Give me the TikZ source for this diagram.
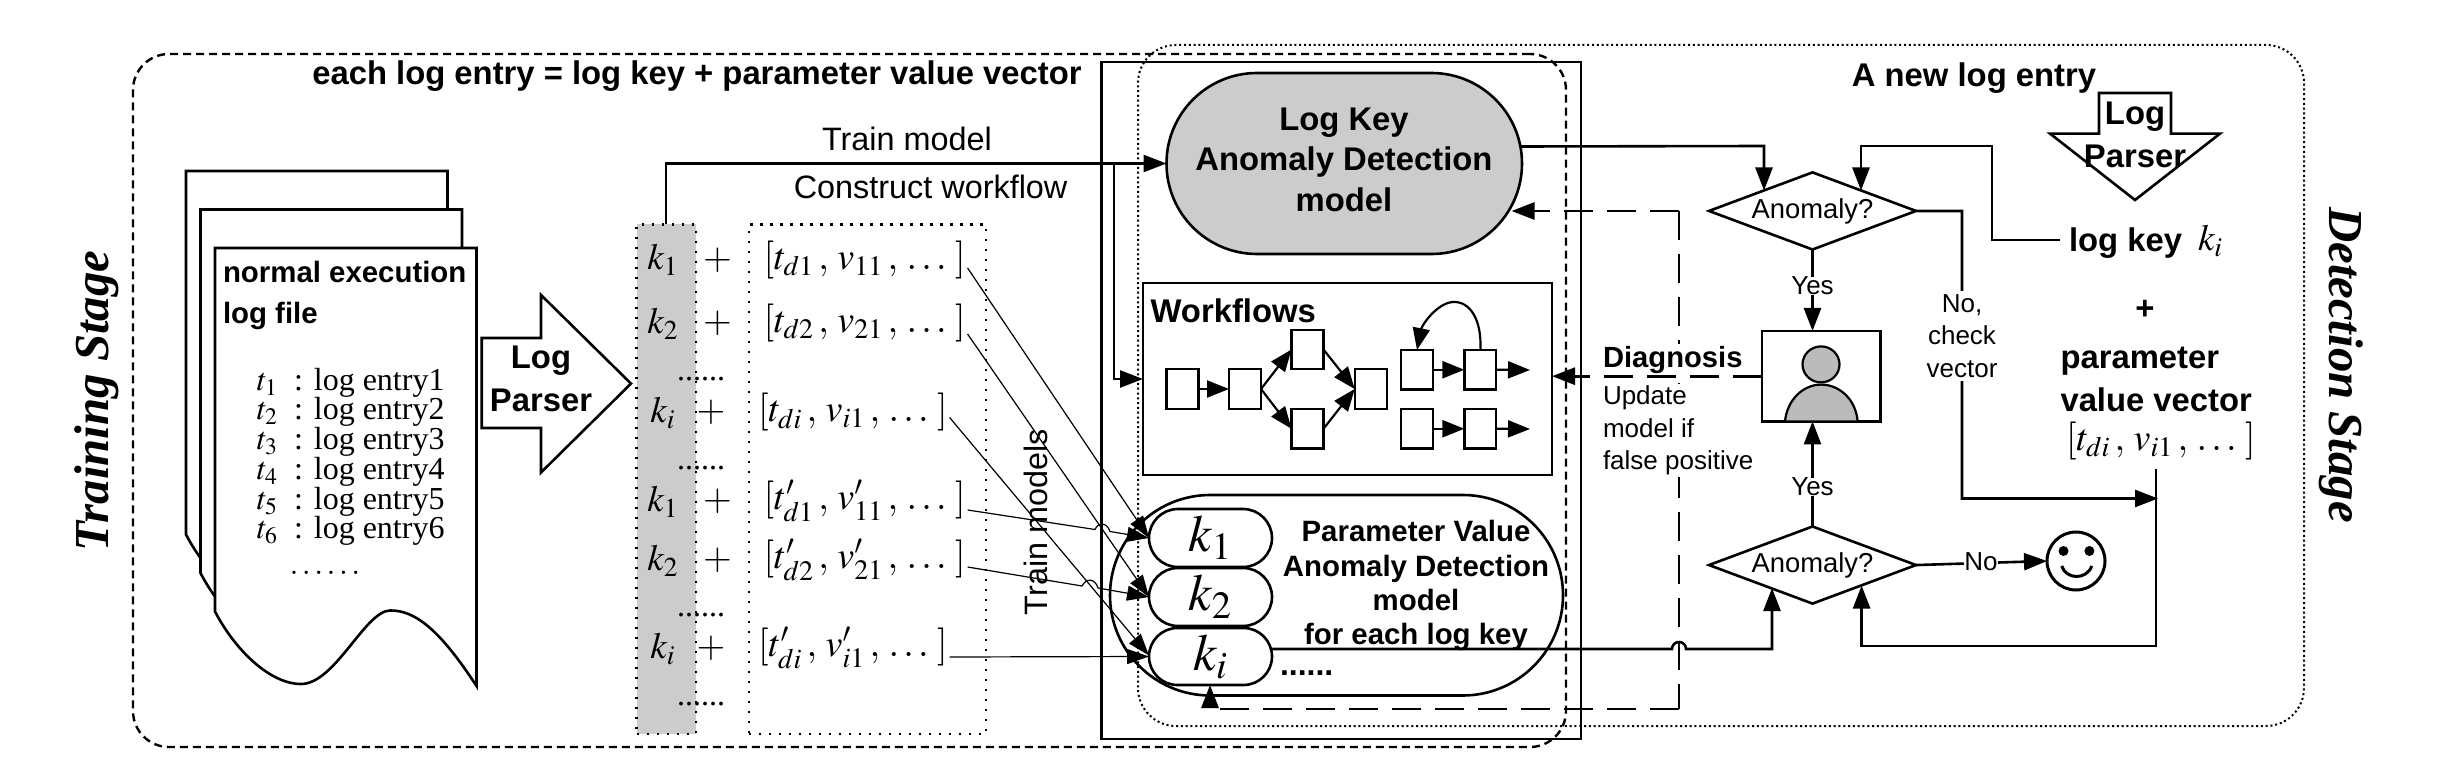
\documentclass[tikz,border=0pt]{standalone}
\usepackage{fontspec}
\usepackage{mathptmx}
\setmainfont{Liberation Sans}
\newfontfamily\tms{Liberation Serif}
\usetikzlibrary{arrows.meta,calc,shapes.geometric,shapes.misc}
\newcommand\fsz[1]{\fontsize{#1}{#1}\selectfont}
\newcommand\bx[7]{\node[#6,minimum width={(#4-#2)*0.5pt},minimum height={(#5-#3)*0.5pt}] (#1) at ({(#2+#4)/2},{(#3+#5)/2}) {#7};}
\newcommand\tline[2]{\makebox[18.5pt][l]{$t_{#1}$}:\hspace{5.5pt}log entry#1}
\newcommand\vecn[2]{$[#1\,,\,#2\,,\,\ldots\,\,]$}
\definecolor{boxgray}{HTML}{CCCCCC}
\definecolor{persongray}{HTML}{BBBBBB}
\tikzset{
  every node/.style={inner sep=0pt,outer sep=0pt},
  line/.style={line width=1.3pt,line join=miter},
  tip/.style={-{Triangle[length=11.5pt,width=8.5pt]}},
  thin line/.style={line width=0.6pt},
  thin tip/.style={-{Triangle[length=11pt,width=7.5pt]}},
  feedback/.style={line width=1.45pt,dash pattern=on 14.5pt off 7pt},
  small box/.style={draw,line width=1.1pt,fill=white},
  pill/.style={draw,line width=1.3pt,rounded rectangle,fill=white},
  column/.style={draw,line width=1.1pt,dash pattern=on 1.1pt off 3.9pt},
  big bold/.style={font=\fsz{16.4}\bfseries,align=center},
  mid bold/.style={font=\fsz{14.7}\bfseries,align=center},
  plain big/.style={font=\fsz{16.2}},
  plain small/.style={font=\fsz{13},align=center},
  label/.style={font=\fsz{13},fill=white,align=center},
  serif text/.style={font=\tms\fsz{16}},
  mathbig/.style={font=\tms\fsz{19}},
  keytext/.style={font=\tms\fsz{18.5}},
  stage/.style={font=\tms\fsz{24.4}\bfseries\itshape},
  decision/.style={draw,line width=1.3pt,diamond,aspect=2.68,fill=white,font=\fsz{13.7}},
}
\begin{document}
\begin{tikzpicture}[x=0.5pt,y=-0.5pt]
\useasboundingbox (0,0) rectangle (2464,770);
% stage frames
\bx{training}{133}{54}{1566}{747}{draw,line width=1.2pt,dash pattern=on 4pt off 2.5pt,rounded corners=18pt}{}
\bx{detection}{1138}{45}{2304}{726}{draw,line width=1pt,dash pattern=on 1pt off 1.4pt,rounded corners=19pt}{}
\bx{models}{1101.5}{62}{1581}{739}{draw,line width=1.35pt}{}
\node[big bold,anchor=center] (headline) at (697,76) {each log entry = log key + parameter value vector};
\node[stage,rotate=90] (trainstage) at (97,401) {Training Stage};
\node[stage,rotate=-90] (detectstage) at (2341,365) {Detection Stage};
% log file stack
\foreach \dx/\dy in {-29/-77,-14.5/-38.5,0/0}{
\draw[line,fill=white,shift={(\dx,\dy)}] (215,248) -- (476.5,248) -- (476.5,686)
  .. controls (440,630) and (415,610) .. (390,610.5)
  .. controls (365,611) and (335,684) .. (301,684)
  .. controls (270,684) and (235,650) .. (215,611.5) -- cycle;
}
\node[font=\fsz{14.7}\bfseries,anchor=west] (normal) at (223,272) {normal execution};
\node[font=\fsz{14.7}\bfseries,anchor=west] (logfile) at (223,316) {log file};
\node[serif text,anchor=west] (e1) at (257,383) {\tline{1}{}};
\node[serif text,anchor=west] (e2) at (257,412) {\tline{2}{}};
\node[serif text,anchor=west] (e3) at (257,442) {\tline{3}{}};
\node[serif text,anchor=west] (e4) at (257,472) {\tline{4}{}};
\node[serif text,anchor=west] (e5) at (257,501.5) {\tline{5}{}};
\node[serif text,anchor=west] (e6) at (257,531) {\tline{6}{}};
\node[serif text] (edots) at (325,573) {$\ldots\ldots$};
% log parser (left)
\draw[line,fill=white] (481.7,338) -- (541,338) -- (541,295) -- (631,383.6) -- (541,472.5) -- (541,428) -- (481.7,428) -- cycle;
\node[big bold] (lp1) at (541,361) {Log};
\node[big bold] (lp2) at (541,400) {Parser};
% columns
\bx{keycol}{636.5}{224.5}{695.6}{734}{column,fill=boxgray}{}
\bx{veccol}{749}{224.5}{986}{734}{column}{}
\node[keytext] (k1) at (663,260) {$k_1$};
\node[keytext] (k2) at (663,324) {$k_2$};
\node[keytext] (ki) at (663,413) {$k_i$};
\node[keytext] (kb1) at (663,502) {$k_1$};
\node[keytext] (kb2) at (663,561) {$k_2$};
\node[keytext] (kbi) at (663,649) {$k_i$};
\node[keytext] (p1) at (717.5,260) {$+$};
\node[keytext] (p2) at (717.5,323) {$+$};
\node[keytext] (p3) at (711,412) {$+$};
\node[keytext] (p4) at (717.5,501) {$+$};
\node[keytext] (p5) at (717.5,560) {$+$};
\node[keytext] (p6) at (711,648) {$+$};
\foreach \n/\y in {d1/379,d2/468,d3/615,d4/704}{
  \node[serif text] (\n) at (701,\y) {......};
}
\node[mathbig,anchor=west] (v1) at (763.5,260) {\vecn{t_{d1}}{v_{11}}};
\node[mathbig,anchor=west] (v2) at (763.5,323) {\vecn{t_{d2}}{v_{21}}};
\node[mathbig,anchor=west] (v3) at (758,412.5) {\vecn{t_{di}}{v_{i1}}};
\node[mathbig,anchor=west] (v4) at (763.5,501) {\vecn{t'_{d1}}{v'_{11}}};
\node[mathbig,anchor=west] (v5) at (763.5,560) {\vecn{t'_{d2}}{v'_{21}}};
\node[mathbig,anchor=west] (v6) at (758,648) {\vecn{t'_{di}}{v'_{i1}}};
% log key model
\bx{logkey}{1166.5}{73}{1522}{254}{draw,line width=1.3pt,rounded rectangle,fill=boxgray}{}
\node[big bold] (lk1) at (1344,123) {Log Key};
\node[big bold] (lk2) at (1344,162) {Anomaly Detection};
\node[big bold] (lk3) at (1344,200) {model};
% workflows
\bx{workflows}{1143}{283}{1552}{475}{draw,line width=1.35pt}{}
\node[big bold,anchor=west] (wftitle) at (1150.6,311) {Workflows};
\bx{wa}{1166.5}{369}{1198.5}{409}{small box}{}
\bx{wb}{1229}{369}{1261}{409}{small box}{}
\bx{wc}{1291.5}{330}{1323.5}{369}{small box}{}
\bx{wd}{1291.5}{409}{1323.5}{448.5}{small box}{}
\bx{we}{1354.7}{369}{1386.6}{409}{small box}{}
\bx{wf}{1401}{350}{1433}{389.5}{small box}{}
\bx{wg}{1464.4}{350}{1496.3}{389.5}{small box}{}
\bx{wh}{1401}{409}{1433}{448.5}{small box}{}
\bx{wi}{1464.4}{409}{1496.3}{448.5}{small box}{}
\coordinate (wgout) at (1530,370);
\coordinate (wiout) at (1530,429);
\begin{scope}[line width=1.1pt,-{Triangle[length=11pt,width=8.5pt]}]
\draw (wa.east) -- (wb.west);
\draw (wb.east) -- (wc.west);
\draw (wb.east) -- (wd.west);
\draw (wc.east) -- (we.west);
\draw (wd.east) -- (we.west);
\draw (wf.east) -- (wg.west);
\draw (wg.east) -- (wgout);
\draw (wh.east) -- (wi.west);
\draw (wi.east) -- (wiout);
\draw (wg.north) .. controls (1482,320) and (1470,301) .. (1453,302) .. controls (1437,303) and (1422,325) .. (wf.north);
\end{scope}
% parameter value model
\bx{paramoval}{1110}{495}{1563}{695.5}{draw,line width=1.3pt,rounded rectangle}{}
\bx{pk1}{1149}{509}{1272}{567}{pill}{\fsz{26}\tms$k_1$}
\bx{pk2}{1149}{568}{1272}{626}{pill}{\fsz{26}\tms$k_2$}
\bx{pki}{1149}{628}{1272}{685}{pill}{\fsz{26}\tms$k_i$}
\node[mid bold] (pv1) at (1416,531) {Parameter Value};
\node[mid bold] (pv2) at (1416,569) {Anomaly Detection};
\node[mid bold] (pv3) at (1416,600) {model};
\node[mid bold] (pv4) at (1416,637) {for each log key};
\node[font=\fsz{16}\bfseries,anchor=west] (pvdots) at (1280,673) {......};
% thin connectors
\draw[thin line,thin tip] ($(v1.east)+(2,8)$) -- (pk1.west);
\draw[thin line,thin tip] ($(v2.east)+(2,11)$) -- (pk2.west);
\draw[thin line,thin tip] ($(v3.east)+(2,5)$) -- ($(pki.west)+(0,-1)$);
\draw[thin line,thin tip] ($(v4.east)+(2,9)$) -- (1095,529.5) .. controls (1098,522) and (1107,522) .. (1110,531.5) -- (pk1.west);
\draw[thin line,thin tip] ($(v5.east)+(2,7)$) -- (1082,586) .. controls (1086,578) and (1095,578) .. (1098,588) -- (pk2.west);
\draw[thin line,thin tip] ($(v6.east)+(2,9)$) -- ($(pki.west)+(0,0)$);
% train model
\coordinate (branch) at (1114,163.5);
\draw[line,tip] (keycol.north -| 666,0) -- (666,163.5) -- (logkey.west);
\draw[line,tip] (branch) -- (1114,379) -- (workflows.west |- 0,379);
\node[plain big] (trainmodel) at (907,139) {Train model};
\node[plain big] (construct) at (930.6,187) {Construct workflow};
\node[plain big,rotate=90] (trainmodels) at (1036,522) {Train models};
% decisions
\bx{anom1}{1709}{172.4}{1916}{249.5}{decision}{Anomaly?}
\bx{anom2}{1709}{526.5}{1916}{603.6}{decision}{Anomaly?}
\bx{person}{1762}{331}{1880.6}{421.4}{draw,line width=1.3pt,fill=white}{}
\node[draw,line width=1.1pt,ellipse,fill=persongray,minimum width=18.5pt,minimum height=18pt] (head) at (1821,364.4) {};
\draw[line width=1.1pt,fill=persongray] (1785,421.4) .. controls (1787,400) and (1803,384.6) .. (1821,384.6) .. controls (1840,384.6) and (1856,400) .. (1857.6,421.4) -- cycle;
\node[draw,circle,line width=1.5pt,minimum size=29pt] (smiley) at (2076,561) {};
\fill (2063.5,551) circle[radius=5];
\fill (2089.4,551) circle[radius=5];
\draw[line width=1.5pt] (2061.7,566) .. controls (2066,580) and (2087,580) .. (2091.7,566);
% feedback
\coordinate (fbturn) at (1679,211);
\coordinate (fbbot) at (1679,709);
\draw[feedback,tip] (fbturn) -- ($(logkey.east)+(-10.5,47.5)$);
\draw[feedback] (fbturn) -- (fbbot);
\draw[feedback,tip] (fbbot) -- (1210,709) -- (1210,0 |- pki.south);
\node[font=\fsz{14.6}\bfseries,anchor=west,fill=white,inner sep=1pt] (diag) at (1601,360) {Diagnosis};
\node[plain small,anchor=north west,align=left,fill=white,inner sep=1pt] (update) at (1601,384) {Update\\[3.2pt]model if\\[3.2pt]false positive};
\draw[feedback,tip] (person.west) -- (workflows.east |- person.west);
% decision connectors
\draw[line,tip] ($(logkey.east)+(-1,-17)$) -- (1764,146) -- (1764,190.5);
\node[big bold,anchor=west] (logkeytext) at (2069,243) {log key};
\node[keytext,anchor=west] (logkeyi) at (2198,241) {$k_i$};
\coordinate (lkin) at (2060,240);
\draw[line,tip] (lkin) -- (1992,240) -- (1992,146) -- (1861,146) -- (1861,190.5);
\draw[line,tip] (anom1.south) -- (person.north -| anom1.south);
\draw[line,tip] (anom2.north) -- (person.south -| anom2.north);
\coordinate (vecin) at (2156,469);
\coordinate (vecbot) at (2156,646);
\draw[line,tip] (anom1.east) -- (1962,211) -- (1962,498.5) -- (2158,498.5);
\draw[line,tip] (vecin) -- (vecbot) -- (1861.6,646) -- (1861.6,585.5);
\draw[line,tip] (anom2.east) -- (smiley.west);
\draw[line,tip] (pki.east |- 0,649) -- (1672,649) arc[start angle=180,end angle=360,radius=7] -- (1772,649) -- (1772,588);
\node[label] (yes1) at (1812.5,286) {Yes};
\node[label] (yes2) at (1812.5,487) {Yes};
\node[label] (no) at (1981,562) {No};
\node[label,inner sep=2pt] (nocheck) at (1962,336) {No,\\[3.2pt]check\\[3.2pt]vector};
% right text
\node[big bold] (newentry) at (1974,78) {A new log entry};
\draw[line,fill=white] (2099,93) -- (2171,93) -- (2171,133.6) -- (2220,133.6) -- (2135,200) -- (2050,133.6) -- (2099,133.6) -- cycle;
\node[big bold] (lp3) at (2135,117) {Log};
\node[big bold] (lp4) at (2135,156) {Parser};
\node[big bold] (plus) at (2145,310) {+};
\node[big bold,anchor=west] (param1) at (2060.5,361) {parameter};
\node[big bold,anchor=west] (param2) at (2060.5,400) {value vector};
\node[mathbig,anchor=west] (param3) at (2066,441) {\vecn{t_{di}}{v_{i1}}};
\end{tikzpicture}
\end{document}
